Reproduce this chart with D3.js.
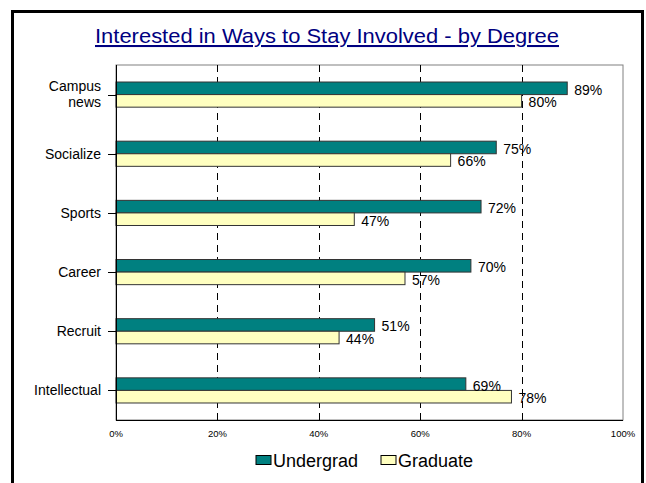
<!DOCTYPE html>
<html>
<head>
<meta charset="utf-8">
<script src="https://cdn.jsdelivr.net/npm/d3@7"></script>
<style>
  html, body { margin: 0; padding: 0; background: #fff; }
  svg { display: block; font-family: "Liberation Sans", Arial, sans-serif; }
</style>
</head>
<body>
<div id="chart"></div>
<script>
// data
const categories = ["Campus news", "Socialize", "Sports", "Career", "Recruit", "Intellectual"];
const undergrad = [89, 75, 72, 70, 51, 69];
const graduate = [80, 66, 47, 57, 44, 78];
const seriesNames = ["Undergrad", "Graduate"];
const seriesColors = ["#008080", "#FFFFC0"];
const xTicks = [0, 20, 40, 60, 80, 100];

const width = 646, height = 483;
const plot = { left: 116, right: 623, top: 65, bottom: 420 };

const svg = d3.select("#chart").append("svg")
  .attr("width", width)
  .attr("height", height);

// outer frame (bottom edge runs off the page)
svg.append("rect")
  .attr("x", 12.5).attr("y", 11.5)
  .attr("width", 630).attr("height", 500)
  .attr("fill", "none")
  .attr("stroke", "#000")
  .attr("stroke-width", 3);

// title
svg.append("text")
  .attr("x", 327).attr("y", 43)
  .attr("text-anchor", "middle")
  .attr("font-size", 20.5)
  .attr("textLength", 464)
  .attr("lengthAdjust", "spacingAndGlyphs")
  .attr("fill", "#000080")
  .attr("text-decoration", "underline")
  .text("Interested in Ways to Stay Involved - by Degree");

const x = d3.scaleLinear().domain([0, 100]).range([plot.left, plot.right]);
const y = d3.scaleBand().domain(categories).range([plot.top, plot.bottom])
  .paddingInner(0.575).paddingOuter(0.2875);
const ySub = d3.scaleBand().domain(seriesNames).range([0, y.bandwidth()]);

// plot background + border
svg.append("rect")
  .attr("x", plot.left).attr("y", plot.top)
  .attr("width", plot.right - plot.left).attr("height", plot.bottom - plot.top)
  .attr("fill", "#fff")
  .attr("stroke", "#808080");

// dashed gridlines
svg.append("g")
  .selectAll("line")
  .data(xTicks.filter((d) => d > 0 && d < 100))
  .join("line")
  .attr("x1", (d) => Math.round(x(d)) + 0.5)
  .attr("x2", (d) => Math.round(x(d)) + 0.5)
  .attr("y1", plot.top)
  .attr("y2", plot.bottom)
  .attr("stroke", "#000")
  .attr("stroke-dasharray", "7,5");

// bars
const rows = categories.map((c, i) => ({ cat: c, values: [undergrad[i], graduate[i]] }));

const group = svg.append("g")
  .selectAll("g")
  .data(rows)
  .join("g")
  .attr("transform", (d) => `translate(0,${y(d.cat)})`);

group.selectAll("rect")
  .data((d) => d.values.map((v, j) => ({ v, s: seriesNames[j], j })))
  .join("rect")
  .attr("x", x(0))
  .attr("y", (d) => ySub(d.s))
  .attr("width", (d) => x(d.v) - x(0))
  .attr("height", ySub.bandwidth())
  .attr("fill", (d) => seriesColors[d.j])
  .attr("stroke", "#333")
  .attr("stroke-width", 1);

group.selectAll("text")
  .data((d) => d.values.map((v, j) => ({ v, s: seriesNames[j] })))
  .join("text")
  .attr("x", (d) => x(d.v) + 7)
  .attr("y", (d) => ySub(d.s) + ySub.bandwidth() / 2 + 1.5)
  .attr("dy", "0.35em")
  .attr("font-size", 14)
  .attr("fill", "#000")
  .text((d) => d.v + "%");

// y axis
const yAxis = svg.append("g");
yAxis.append("line")
  .attr("x1", plot.left + 0.5).attr("x2", plot.left + 0.5)
  .attr("y1", plot.top).attr("y2", plot.bottom)
  .attr("stroke", "#000");
yAxis.selectAll("line.tick")
  .data(categories)
  .join("line")
  .attr("class", "tick")
  .attr("x1", plot.left - 8).attr("x2", plot.left)
  .attr("y1", (d) => Math.round(y(d) + y.bandwidth() / 2) + 0.5)
  .attr("y2", (d) => Math.round(y(d) + y.bandwidth() / 2) + 0.5)
  .attr("stroke", "#000");

const yLabel = yAxis.selectAll("text")
  .data(categories)
  .join("text")
  .attr("text-anchor", "end")
  .attr("font-size", 14)
  .attr("fill", "#000");
yLabel.each(function (d) {
  const words = d === "Campus news" ? ["Campus", "news"] : [d];
  const cy = y(d) + y.bandwidth() / 2;
  const t = d3.select(this);
  words.forEach((w, k) => {
    t.append("tspan")
      .attr("x", 101)
      .attr("y", cy + (k - (words.length - 1) / 2) * 16)
      .attr("dy", "0.35em")
      .text(w);
  });
});

// x axis
svg.append("line")
  .attr("x1", plot.left).attr("x2", plot.right)
  .attr("y1", plot.bottom + 0.5).attr("y2", plot.bottom + 0.5)
  .attr("stroke", "#000");
svg.append("g")
  .selectAll("text")
  .data(xTicks)
  .join("text")
  .attr("x", (d) => x(d))
  .attr("y", 434)
  .attr("dy", "0.35em")
  .attr("text-anchor", "middle")
  .attr("font-size", 9.5)
  .attr("fill", "#000")
  .text((d) => d + "%");

// legend
const legendX = [256, 381];
const legend = svg.append("g")
  .selectAll("g")
  .data(seriesNames)
  .join("g")
  .attr("transform", (d, i) => `translate(${legendX[i]},455.5)`);
legend.append("rect")
  .attr("width", 15).attr("height", 9)
  .attr("fill", (d, i) => seriesColors[i])
  .attr("stroke", "#000");
legend.append("text")
  .attr("x", 17).attr("y", 5)
  .attr("dy", "0.35em")
  .attr("font-size", 18)
  .attr("fill", "#000")
  .text((d) => d);
</script>
</body>
</html>
